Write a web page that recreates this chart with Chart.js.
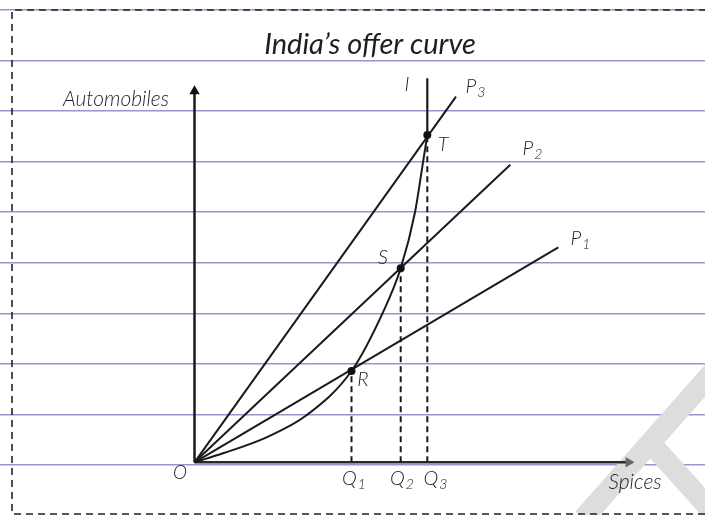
<!DOCTYPE html>
<html>
<head>
<meta charset="utf-8">
<script src="https://cdn.jsdelivr.net/npm/chart.js@4/dist/chart.umd.min.js"></script>
<style>
  html, body { margin: 0; padding: 0; background: #fff; }
  #wrap { width: 705px; height: 515px; }
</style>
</head>
<body>
<div id="wrap"><canvas id="chart"></canvas></div>
<script>
// diagram values (1 unit = 10 px, origin at O)
const offerCurve = [
  { x: 0, y: 0 }, { x: 2.85, y: 0.9 }, { x: 7.2, y: 2.5 }, { x: 11.2, y: 4.7 },
  { x: 15.7, y: 9.13 }, { x: 18.8, y: 14.9 }, { x: 20.62, y: 19.4 },
  { x: 22.05, y: 25.0 }, { x: 22.85, y: 30.0 }, { x: 23.28, y: 32.73 }
];
const verticalI = [{ x: 23.28, y: 32.73 }, { x: 23.28, y: 38.4 }];
const priceLines = {
  P1: [{ x: 0, y: 0 }, { x: 36.38, y: 21.5 }],
  P2: [{ x: 0, y: 0 }, { x: 31.58, y: 29.76 }],
  P3: [{ x: 0, y: 0 }, { x: 26.15, y: 36.56 }]
};
const equilibria = [{ x: 15.7, y: 9.13 }, { x: 20.62, y: 19.4 }, { x: 23.28, y: 32.73 }];
const yAxisLine = [{ x: 0, y: 0 }, { x: 0, y: 37.1 }];
const xAxisLine = [{ x: 0, y: 0 }, { x: 43.4, y: 0 }];
const ruleLines = [45.23, 40.17, 35.12, 30.06, 25.01, 19.95, 14.89, 9.84, 4.78, -0.27];
const watermarkStem = [{ x: 38.9, y: -5.6 }, { x: 51.8, y: 9.0 }];
const watermarkBar = [{ x: 45.9, y: 1.6 }, { x: 52.1, y: -5.3 }];

// text labels, placed in diagram units
const textLabels = [
  { t: "India\u2019s offer curve", x: 17.55, y: 41.8, size: 29, weight: 400 },
  { t: 'Automobiles', x: -7.85, y: 36.3, size: 21 },
  { t: 'Spices', x: 44.05, y: -1.95, size: 21 },
  { t: 'O', x: -1.45, y: -1.1, size: 19 },
  { t: 'Q', sub: '1', x: 15.95, y: -1.6, size: 20 },
  { t: 'Q', sub: '2', x: 20.75, y: -1.6, size: 20 },
  { t: 'Q', sub: '3', x: 24.1, y: -1.6, size: 20 },
  { t: 'R', x: 16.85, y: 8.25, size: 20 },
  { t: 'S', x: 18.85, y: 20.45, size: 20 },
  { t: 'T', x: 24.85, y: 31.75, size: 20 },
  { t: 'I', x: 21.25, y: 37.75, size: 20 },
  { t: 'P', sub: '3', x: 28.1, y: 37.55, size: 20 },
  { t: 'P', sub: '2', x: 33.8, y: 31.35, size: 20 },
  { t: 'P', sub: '1', x: 38.6, y: 22.35, size: 20 }
];

const line = (data, extra) => Object.assign({
  data, showLine: true, borderColor: '#1a1a1a', borderWidth: 2,
  pointRadius: 0, fill: false, tension: 0
}, extra);

const datasets = [
  line(equilibria, { showLine: false, pointRadius: 4, pointBackgroundColor: '#111', pointBorderWidth: 0 }),
  line(offerCurve, { cubicInterpolationMode: 'monotone' }),
  line(verticalI, { borderWidth: 2.2 }),
  line(priceLines.P1),
  line(priceLines.P2),
  line(priceLines.P3),
  ...equilibria.map(p => line([{ x: p.x, y: 0 }, p], { borderDash: [6, 4] })),
  line(yAxisLine, {
    borderWidth: 2.5, pointRadius: [0, 6], pointStyle: 'triangle',
    pointBackgroundColor: '#111', pointBorderWidth: 0, rotation: 0
  }),
  line(xAxisLine, {
    borderWidth: 2.5, borderColor: '#2a2a2a', pointRadius: [0, 6], pointStyle: 'triangle',
    pointBackgroundColor: '#666', pointBorderWidth: 0, rotation: 90
  }),
  // faint watermark stroke in the corner
  line(watermarkStem, { borderColor: '#dddddd', borderWidth: 21, borderCapStyle: 'butt', order: 10 }),
  line(watermarkBar, { borderColor: '#dddddd', borderWidth: 21, borderCapStyle: 'butt', order: 10 })
];

// dashed frame and text labels (with hand-set subscripts)
const notebookPlugin = {
  id: 'notebook',
  afterDatasetsDraw(chart) {
    const { ctx, scales: { x, y } } = chart;
    ctx.save();
    ctx.setLineDash([7, 5]);
    ctx.strokeStyle = '#222';
    ctx.lineWidth = 1.6;
    ctx.beginPath();
    ctx.moveTo(730, 10); ctx.lineTo(12, 10); ctx.lineTo(12, 514); ctx.lineTo(730, 514);
    ctx.stroke();
    ctx.setLineDash([]);
    ctx.textBaseline = 'middle';
    ctx.fillStyle = '#1e1e1e';
    textLabels.forEach(l => {
      const font = s => `italic ${l.weight || 300} ${s}px Lato, "Noto Sans", sans-serif`;
      const px = x.getPixelForValue(l.x), py = y.getPixelForValue(l.y);
      ctx.font = font(l.size);
      const w1 = ctx.measureText(l.t).width;
      let w2 = 0;
      if (l.sub) { ctx.font = font(l.size * 0.7); w2 = ctx.measureText(l.sub).width + 1; }
      const left = px - (w1 + w2) / 2;
      ctx.textAlign = 'left';
      ctx.font = font(l.size);
      ctx.fillText(l.t, left, py);
      if (l.sub) {
        ctx.font = font(l.size * 0.7);
        ctx.fillText(l.sub, left + w1 + 1, py + l.size * 0.3);
      }
    });
    ctx.restore();
  }
};

new Chart(document.getElementById('chart').getContext('2d'), {
  type: 'scatter',
  data: { datasets },
  plugins: [notebookPlugin],
  options: {
    responsive: true,
    maintainAspectRatio: false,
    animation: false,
    layout: { padding: 0, autoPadding: false },
    plugins: { legend: { display: false }, tooltip: { enabled: false } },
    scales: {
      x: { type: 'linear', min: -19.45, max: 51.05, display: false },
      y: {
        type: 'linear', min: -5.27, max: 46.23, display: true,
        afterBuildTicks: s => { s.ticks = ruleLines.map(v => ({ value: v })); },
        ticks: { display: false },
        border: { display: false },
        grid: { color: '#9894cc', lineWidth: 1.5, drawTicks: false }
      }
    }
  }
});
</script>
</body>
</html>
